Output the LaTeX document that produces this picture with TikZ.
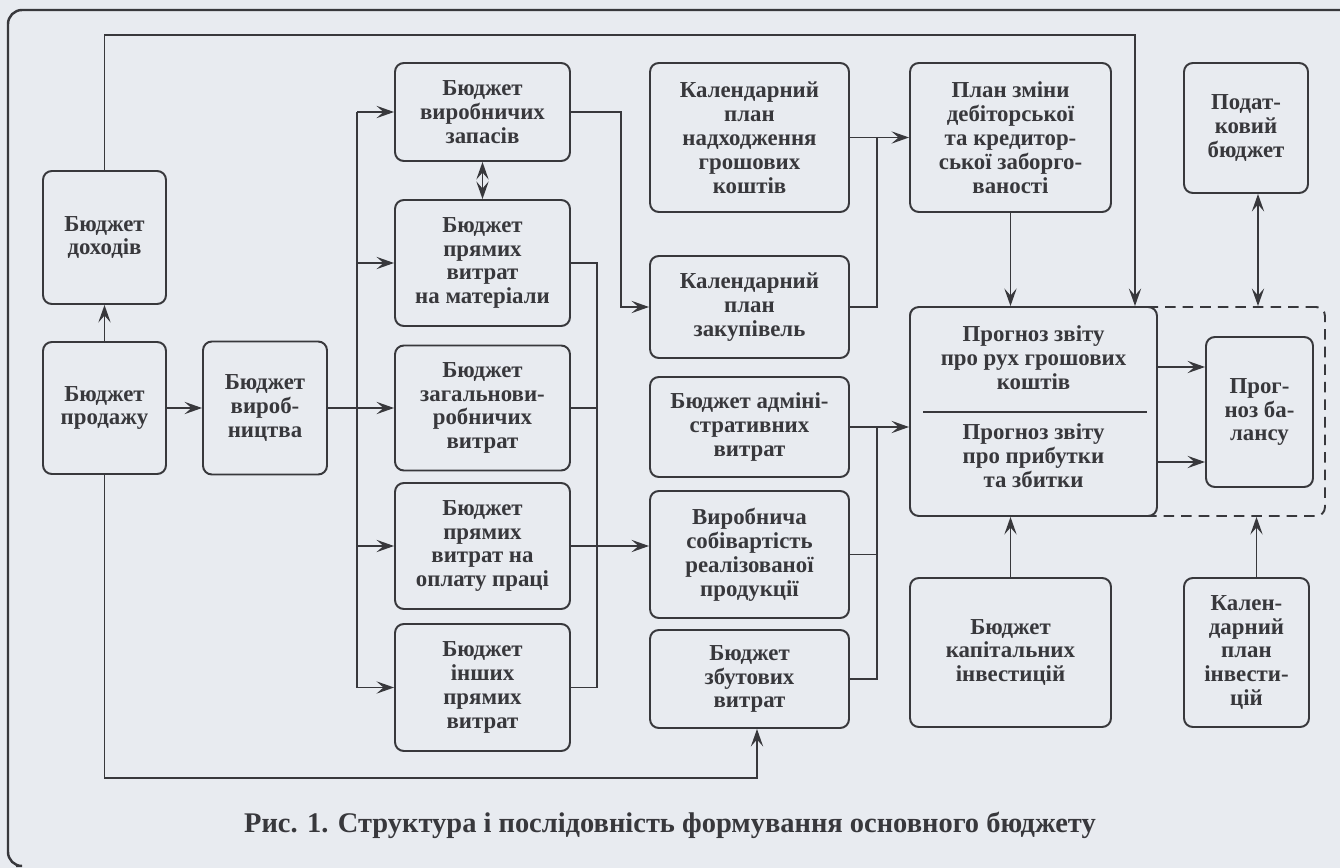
\documentclass[tikz,border=0pt]{standalone}
\usepackage{fontspec}
\setmainfont{Liberation Serif}
\usetikzlibrary{arrows.meta}
\definecolor{paper}{RGB}{232,235,240}
\definecolor{ink}{RGB}{56,56,60}

\begin{document}
\begin{tikzpicture}[x=0.02cm,y=-0.02cm,
    box/.style={draw=ink, line width=1.1pt, rounded corners=5pt, fill=paper,
        align=center, inner sep=2pt, text=ink,
        font=\fontsize{13}{13.6}\selectfont\bfseries},
    arr/.style={draw=ink, line width=1pt, -{Stealth[length=10pt,width=7pt,inset=4pt]}},
    arrr/.style={draw=ink, line width=1pt, {Stealth[length=10pt,width=7pt,inset=4pt]}-{Stealth[length=10pt,width=7pt,inset=4pt]}},
    ln/.style={draw=ink, line width=1pt}]
    \useasboundingbox[fill=paper] (0,0) rectangle (1340,868);
    \draw[ink, line width=1.4pt, rounded corners=8pt] (1340,10) -- (8,10) -- (8,866) -- (16,866);

    % first column
    \node[box, minimum width=2.46cm, minimum height=2.66cm] (dohody) at (104.5,237.5) {Бюджет\\доходів};
    \node[box, minimum width=2.46cm, minimum height=2.64cm] (prodazh) at (104.5,408) {Бюджет\\продажу};
    \node[box, minimum width=2.48cm, minimum height=2.66cm] (vyrobn) at (265,408) {Бюджет\\вироб-\\ництва};

    % second column
    \node[box, minimum width=3.5cm, minimum height=1.96cm] (zapasy) at (482.5,112) {Бюджет\\виробничих\\запасів};
    \node[box, minimum width=3.5cm, minimum height=2.52cm] (materialy) at (482.5,263) {Бюджет\\прямих\\витрат\\на матеріали};
    \node[box, minimum width=3.5cm, minimum height=2.5cm] (zagvyr) at (482.5,408) {Бюджет\\загальнови-\\робничих\\витрат};
    \node[box, minimum width=3.5cm, minimum height=2.52cm] (oplata) at (482.5,546) {Бюджет\\прямих\\витрат на\\оплату праці};
    \node[box, minimum width=3.5cm, minimum height=2.54cm] (inshi) at (482.5,687.5) {Бюджет\\інших\\прямих\\витрат};

    % third column
    \node[box, minimum width=3.98cm, minimum height=2.98cm] (nadkh) at (749.5,137.5) {Календарний\\план\\надходження\\грошових\\коштів};
    \node[box, minimum width=3.98cm, minimum height=2.04cm] (zakup) at (749.5,307) {Календарний\\план\\закупівель};
    \node[box, minimum width=3.98cm, minimum height=2.0cm] (admin) at (749.5,427) {Бюджет адміні-\\стративних\\витрат};
    \node[box, minimum width=3.98cm, minimum height=2.54cm] (sobiv) at (749.5,554.5) {Виробнича\\собівартість\\реалізованої\\продукції};
    \node[box, minimum width=3.98cm, minimum height=1.96cm] (zbut) at (749.5,679) {Бюджет\\збутових\\витрат};

    % fourth and fifth columns
    \node[box, minimum width=4.02cm, minimum height=2.98cm] (planzm) at (1010.5,137.5) {План зміни\\дебіторської\\та кредитор-\\ської заборго-\\ваності};
    \node[draw=ink, line width=1.1pt, dashed, dash pattern=on 6pt off 4pt, rounded corners=5pt, minimum width=8.3cm, minimum height=4.18cm] (zona) at (1117.5,411.5) {};
    \node[box, minimum width=4.94cm, minimum height=4.18cm] (prognoz) at (1033.5,411.5) {};
    \node[box, draw=none, fill=none] (rukh) at (1033.5,358) {Прогноз звіту\\про рух грошових\\коштів};
    \node[box, draw=none, fill=none] (prybutky) at (1033.5,456) {Прогноз звіту\\про прибутки\\та збитки};
    \draw[ln] (923,412) -- (1147,412);
    \node[box, minimum width=4.02cm, minimum height=2.98cm] (kapinv) at (1010.5,652.5) {Бюджет\\капітальних\\інвестицій};
    \node[box, minimum width=2.48cm, minimum height=2.6cm] (podat) at (1246,128) {Подат-\\ковий\\бюджет};
    \node[box, minimum width=2.14cm, minimum height=3.0cm] (balans) at (1259.5,412) {Прог-\\ноз ба-\\лансу};
    \node[box, minimum width=2.5cm, minimum height=2.98cm] (kalinv) at (1246.5,652.5) {Кален-\\дарний\\план\\інвести-\\цій};

    \coordinate (top) at (1135,35);
    \coordinate (bA) at (357,0);
    \coordinate (bB) at (597,0);
    \coordinate (bC) at (621,0);
    \coordinate (bD) at (877,0);
    \coordinate (low) at (757,778);

    % connectors
    \draw[arr] (dohody.north) |- (top) -- (top |- prognoz.north);
    \draw[arr] (prodazh.north) -- (dohody.south);
    \draw[arr] (prodazh.east) -- (vyrobn.west);
    \draw[arr] (prodazh.south) |- (low) -- (low |- zbut.south);

    \draw[arr] (vyrobn.east) -- (zagvyr.west);
    \draw[ln] (bA |- zapasy.west) -- (bA |- inshi.west);
    \draw[arr] (bA |- zapasy.west) -- (zapasy.west);
    \draw[arr] (bA |- materialy.west) -- (materialy.west);
    \draw[arr] (bA |- oplata.west) -- (oplata.west);
    \draw[arr] (bA |- inshi.west) -- (inshi.west);
    \draw[arrr] (zapasy.south) -- (materialy.north);

    \draw[arr] (zapasy.east) -- (zapasy.east -| bC) |- (zakup.west);
    \draw[ln] (materialy.east) -| (bB |- inshi.east) -- (inshi.east);
    \draw[ln] (zagvyr.east) -- (bB |- zagvyr.east);
    \draw[arr] (oplata.east) -- (sobiv.west |- oplata.east);

    \draw[arr] (nadkh.east) -- (planzm.west);
    \draw[ln] (zakup.east) -| (bD |- nadkh.east);
    \draw[arr] (admin.east) -- (prognoz.west |- admin.east);
    \draw[ln] (sobiv.east) -| (bD |- admin.east);
    \draw[ln] (zbut.east) -| (bD |- sobiv.east);

    \draw[arr] (planzm.south) -- (planzm.south |- prognoz.north);
    \draw[arr] (kapinv.north) -- (kapinv.north |- prognoz.south);
    \draw[arrr] ([xshift=0.24cm]podat.south) -- ([xshift=0.24cm]podat.south |- zona.north);
    \draw[arr] ([xshift=0.2cm]kalinv.north) -- ([xshift=0.2cm]kalinv.north |- zona.south);
    \draw[arr] (prognoz.east |- 0,367) -- (balans.west |- 0,367);
    \draw[arr] (prognoz.east |- 0,462) -- (balans.west |- 0,462);

    \node[text=ink, font=\fontsize{16.2}{19}\selectfont\bfseries] (caption) at (670,825) {Рис. 1. Структура і послідовність формування основного бюджету};
\end{tikzpicture}
\end{document}
